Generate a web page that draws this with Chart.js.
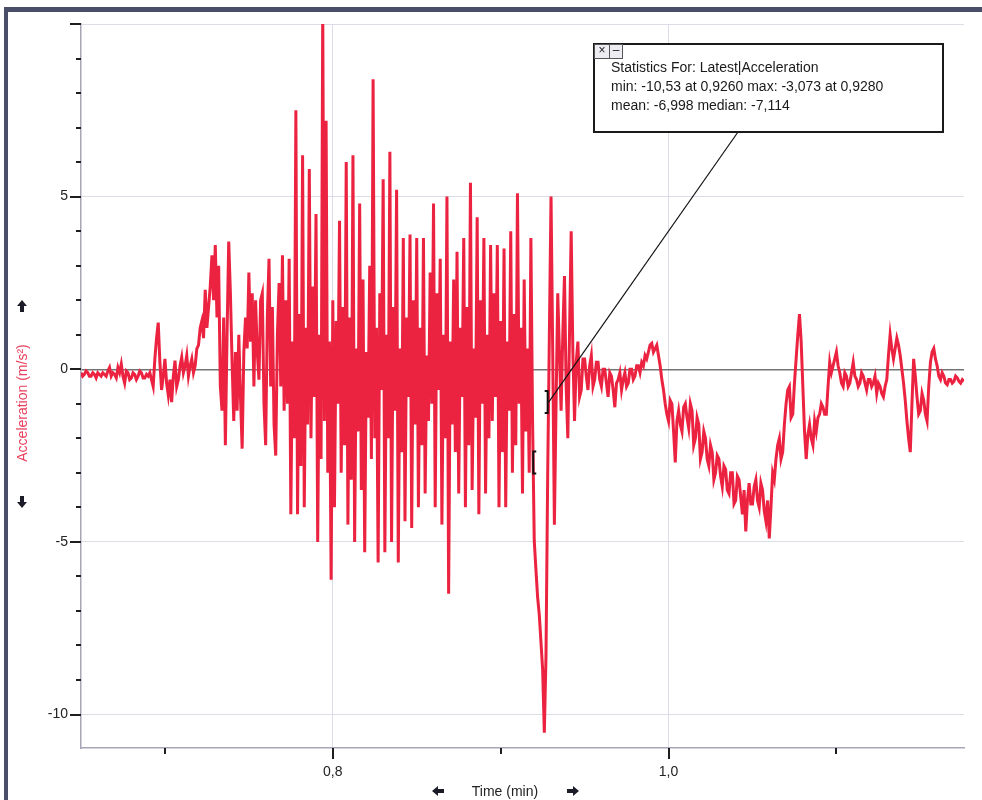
<!DOCTYPE html>
<html>
<head>
<meta charset="utf-8">
<title>Acceleration</title>
<script src="https://cdn.jsdelivr.net/npm/chart.js@4.4.1/dist/chart.umd.min.js"></script>
<style>
  html, body { margin: 0; padding: 0; background: #fff; }
  #wrap { position: relative; width: 982px; height: 800px; overflow: hidden; background: #fff; }
  #wrap canvas { position: absolute; left: 0; top: 0; }
  #frame {
    position: absolute; left: 4px; top: 7px; right: 0; bottom: 0;
    border-left: 4px solid #4a4e66; border-top: 5px solid #4a4e66;
    pointer-events: none;
  }
</style>
</head>
<body>
<div id="wrap">
  <canvas id="accelChart" width="982" height="800"></canvas>
  <div id="frame"></div>
</div>
<script>
// sampling: first sample time and spacing, both in minutes
const T0 = 0.650;
const DT = 0.001;

// acceleration samples (m/s²), 20 per row
const accel = [
  -0.1, -0.2, -0.15, -0.05, -0.1, -0.2, -0.2, -0.1, -0.15, -0.25, -0.1, -0.15, -0.2, -0.1, -0.15, -0.2, -0.05, 0.05, -0.2, -0.1,
  -0.15, -0.25, 0.05, -0.1, 0.15, -0.2, -0.4, -0.05, -0.1, -0.3, -0.25, -0.1, -0.15, -0.3, -0.2, -0.05, -0.1, -0.25, -0.25, -0.15,
  -0.2, -0.1, -0.3, -0.5, 0.3, 0.9, 1.35, 0.2, -0.6, -0.2, 0.3, -0.4, -0.75, -0.3, -0.95, -0.2, 0.25, -0.5, -0.3, 0.1,
  0.35, -0.1, 0.1, 0.4, -0.2, 0.1, 0.3, -0.1, 0.1, 0.6, 0.7, 1.2, 1.4, 0.9, 2.3, 1.2, 1.8, 2.4, 3.3, 2.0,
  3.6, 1.5, 3.0, -0.5, -1.2, 1.5, -2.2, 1.0, 3.7, 2.2, 0.2, -1.5, 0.5, -1.2, 1.0, -0.8, -2.3, 0.5, 1.5, 0.6,
  2.8, 0.8, 2.2, -0.5, 2.0, 0.5, -0.3, 2.0, 2.2, -1.0, -2.2, 1.5, 3.2, -0.5, 1.8, -1.6, -2.5, 1.0, 2.5, -0.5,
  3.3, -1.2, 2.0, -1.0, 3.2, -4.2, 0.8, -2.0, 7.5, -4.2, 1.6, -2.8, 6.2, -4.0, 1.2, -1.6, 5.8, -2.0, 2.4, -0.8,
  4.5, -5.0, 1.0, -2.6, 10.4, -1.5, 7.2, -3.0, 0.8, -6.1, 2.0, -4.0, 1.4, -1.0, 4.3, -3.0, 1.8, -2.2, 6.0, -4.5,
  1.5, -3.2, 6.2, -5.0, 0.6, -1.8, 4.8, -3.5, 2.6, -5.3, 0.5, -1.4, 3.0, -2.6, 8.4, -2.0, 1.2, -5.6, 2.2, -0.6,
  5.5, -5.3, 1.0, -2.0, 6.3, -5.0, 1.8, -1.2, 5.2, -5.6, 0.6, -2.4, 3.8, -4.4, 1.5, -0.8, 3.9, -4.6, 2.0, -1.6,
  3.8, -4.0, 1.2, -2.2, 3.8, -3.6, 0.4, -1.5, 2.8, -1.0, 4.8, -4.0, 2.2, -0.6, 3.2, -4.5, 1.0, -2.0, 5.0, -6.5,
  0.8, -1.6, 2.6, -2.4, 3.4, -3.6, 1.2, -0.8, 3.8, -4.0, 1.8, -2.2, 5.4, -3.5, 0.6, -1.4, 4.4, -4.2, 2.0, -1.0,
  3.8, -3.6, 1.0, -2.0, 3.6, -1.5, 2.2, -0.8, 3.6, -4.0, 1.4, -2.4, 3.5, -4.0, 0.8, -1.2, 4.0, -3.0, 1.6, -2.2,
  5.1, -1.0, 1.2, -3.6, 2.6, -1.8, 0.6, -3.0, 3.8, -1.5, -4.965, -5.8, -6.6, -7.114, -7.9, -8.7, -10.53, -8.3, -3.073, 1.0,
  5.0, 0.5, -4.5, -1.0, 2.2, 0.5, -1.2, 1.0, 2.7, -0.5, -2.0, 1.0, 4.0, 0.5, -1.5, 0.2, 0.8, -0.8, -0.6, 0.3,
  0.3, -0.2, -0.6, 0.1, 0.4, -0.5, -0.3, 0.2, 0.2, -0.3, -0.5, 0.0, 0.0, -0.4, -0.8, -0.1, -0.2, -0.6, -1.1, -0.4,
  -0.3, -0.1, -0.6, -0.3, -0.1, -0.5, -0.4, 0.0, 0.0, -0.3, -0.2, 0.1, 0.1, -0.1, 0.2, 0.1, 0.4, 0.3, 0.5, 0.7,
  0.75, 0.5, 0.6, 0.7, 0.4, 0.1, -0.3, -0.6, -1.0, -1.3, -1.5, -0.9, -1.0, -1.8, -2.7, -1.5, -1.2, -1.6, -1.8, -1.1,
  -1.0, -1.4, -1.7, -1.0, -1.2, -2.2, -2.0, -1.4, -1.6, -2.6, -2.4, -1.8, -2.0, -2.6, -2.8, -2.2, -2.4, -3.2, -3.0, -2.5,
  -2.6, -3.1, -3.4, -2.8, -2.9, -3.5, -3.6, -3.0, -3.0, -3.9, -3.8, -3.1, -3.2, -3.7, -4.2, -3.5, -4.7, -3.8, -3.3, -3.9,
  -3.9, -3.4, -3.2, -3.8, -4.0, -3.3, -3.5, -4.1, -4.4, -3.8, -4.9, -4.0, -3.0, -3.2, -2.6, -2.2, -2.0, -2.6, -2.4, -1.6,
  -1.0, -0.6, -0.5, -1.4, -1.3, -0.4, 0.3, 1.0, 1.6, 0.8, -0.5, -1.8, -2.6, -1.9, -1.6, -2.0, -2.2, -1.5, -1.8, -1.4,
  -1.3, -1.0, -1.1, -1.3, -1.3, -0.5, 0.2, -0.1, 0.1, 0.3, 0.5, 0.1, -0.1, -0.4, -0.5, -0.1, -0.2, -0.5, -0.4, -0.1,
  0.2, -0.2, -0.3, -0.5, -0.4, -0.1, -0.2, -0.4, -0.6, -0.3, -0.3, -0.5, -0.4, -0.2, -0.7, -0.4, -0.5, -0.7, -0.8, -0.5,
  -0.3, 0.4, 1.0, 0.6, 0.3, 0.6, 0.9, 0.7, 0.4, 0.0, -0.4, -0.9, -1.5, -2.0, -2.4, -1.0, 0.3, -0.2, -0.8, -1.3,
  -1.2, -0.7, -0.9, -1.3, -1.5, -0.5, 0.2, 0.5, 0.6, 0.3, 0.1, -0.2, -0.3, -0.1, -0.2, -0.4, -0.45, -0.3, -0.3, -0.4,
  -0.35, -0.2, -0.25, -0.35, -0.4, -0.3, -0.35
];

const xRange = [0.650, 1.176];
const yRange = [-10.97, 10];
const xLabelled = [0.8, 1.0];
const yLabelled = [-10, -5, 0, 5];

// selected region for the statistics box, and where its bracket marks sit
const selection = [0.920, 0.928];
const bracketLevels = [-2.7, -0.95];

const yTitle = 'Acceleration (m/s²)';
const xTitle = 'Time (min)';
const statsTitle = 'Statistics For: Latest|Acceleration';

const FONT = "'Liberation Sans', Arial, sans-serif";
const RED = '#ec2340';

const points = accel.map((v, i) => ({ x: T0 + i * DT, y: v }));

function selectionStats() {
  const sel = points.filter(p => p.x >= selection[0] - 1e-9 && p.x <= selection[1] + 1e-9);
  let min = sel[0], max = sel[0], sum = 0;
  sel.forEach(p => {
    if (p.y < min.y) min = p;
    if (p.y > max.y) max = p;
    sum += p.y;
  });
  const sorted = sel.map(p => p.y).sort((a, b) => a - b);
  const mid = sorted.length >> 1;
  const median = sorted.length % 2 ? sorted[mid] : (sorted[mid - 1] + sorted[mid]) / 2;
  return { min, max, mean: sum / sel.length, median };
}

const fmtNum = v => v.toPrecision(4).replace('.', ',');
const fmtTime = v => v.toFixed(4).replace('.', ',');
const isMajorX = v => Math.round(v * 10) % 2 === 0;
const isMajorY = v => Math.round(v) % 5 === 0;

function line(ctx, x1, y1, x2, y2) {
  ctx.beginPath();
  ctx.moveTo(x1, y1);
  ctx.lineTo(x2, y2);
  ctx.stroke();
}

// small solid block arrow, dir is one of 'up', 'down', 'left', 'right'
function blockArrow(ctx, cx, cy, dir) {
  const rot = { up: 0, right: Math.PI / 2, down: Math.PI, left: -Math.PI / 2 }[dir];
  ctx.save();
  ctx.translate(cx, cy);
  ctx.rotate(rot);
  ctx.fillStyle = '#1c1c28';
  ctx.beginPath();
  ctx.moveTo(0, -6);
  ctx.lineTo(5, 0);
  ctx.lineTo(2, 0);
  ctx.lineTo(2, 6);
  ctx.lineTo(-2, 6);
  ctx.lineTo(-2, 0);
  ctx.lineTo(-5, 0);
  ctx.closePath();
  ctx.fill();
  ctx.restore();
}

// tick marks: long at labelled positions, short in between
const tickMarks = {
  id: 'tickMarks',
  afterDraw(chart) {
    const { ctx, chartArea: a, scales: { x, y } } = chart;
    ctx.save();
    ctx.strokeStyle = '#1e1e1e';
    ctx.lineWidth = 2;
    y.ticks.forEach(t => {
      const py = Math.round(y.getPixelForValue(t.value));
      line(ctx, a.left - (isMajorY(t.value) ? 11 : 5), py, a.left, py);
    });
    x.ticks.forEach(t => {
      const px = Math.round(x.getPixelForValue(t.value));
      line(ctx, px, a.bottom, px, a.bottom + (isMajorX(t.value) ? 11 : 6));
    });
    ctx.restore();
  }
};

// axis titles with the little scroll arrows beside them
const axisTitles = {
  id: 'axisTitles',
  afterDraw(chart) {
    const { ctx } = chart;
    ctx.save();
    ctx.font = '14px ' + FONT;
    ctx.textAlign = 'center';
    ctx.textBaseline = 'middle';

    ctx.save();
    ctx.translate(23, 403);
    ctx.rotate(-Math.PI / 2);
    ctx.fillStyle = '#e8405c';
    ctx.fillText(yTitle, 0, 0);
    ctx.restore();
    blockArrow(ctx, 22, 306, 'up');
    blockArrow(ctx, 22, 502, 'down');

    ctx.fillStyle = '#222';
    ctx.fillText(xTitle, 505, 792);
    blockArrow(ctx, 438, 791, 'left');
    blockArrow(ctx, 573, 791, 'right');
    ctx.restore();
  }
};

// selection brackets, leader line and the statistics box
const statsBox = {
  id: 'statsBox',
  afterDraw(chart) {
    const { ctx, scales: { x, y } } = chart;
    const s = selectionStats();
    const bx = 594, by = 44, bw = 349, bh = 88;

    ctx.save();
    ctx.strokeStyle = '#111';
    ctx.lineWidth = 2;
    const lx = x.getPixelForValue(selection[0]);
    const rx = x.getPixelForValue(selection[1]);
    const ly = y.getPixelForValue(bracketLevels[0]);
    const ry = y.getPixelForValue(bracketLevels[1]);
    // "[" at the start
    ctx.beginPath();
    ctx.moveTo(lx + 2, ly - 11); ctx.lineTo(lx - 1, ly - 11);
    ctx.lineTo(lx - 1, ly + 11); ctx.lineTo(lx + 2, ly + 11);
    ctx.stroke();
    // "]" at the end
    ctx.beginPath();
    ctx.moveTo(rx - 3, ry - 11); ctx.lineTo(rx, ry - 11);
    ctx.lineTo(rx, ry + 11); ctx.lineTo(rx - 3, ry + 11);
    ctx.stroke();

    ctx.lineWidth = 1.2;
    line(ctx, rx + 1, ry, 738, by + bh);

    ctx.fillStyle = '#fff';
    ctx.fillRect(bx, by, bw, bh);
    ctx.lineWidth = 2;
    ctx.strokeStyle = '#1a1a1a';
    ctx.strokeRect(bx, by, bw, bh);

    // close / minimise buttons
    ctx.fillStyle = '#ececf2';
    ctx.fillRect(bx, by, 29, 15);
    ctx.lineWidth = 1;
    ctx.strokeStyle = '#555';
    ctx.strokeRect(bx + 0.5, by + 0.5, 28, 14);
    line(ctx, bx + 15.5, by, bx + 15.5, by + 15);
    ctx.fillStyle = '#222';
    ctx.font = '12px ' + FONT;
    ctx.textAlign = 'center';
    ctx.textBaseline = 'middle';
    ctx.fillText('×', bx + 8, by + 7);
    ctx.fillText('–', bx + 22, by + 7);

    ctx.font = '14px ' + FONT;
    ctx.textAlign = 'left';
    ctx.fillStyle = '#1a1a1a';
    const rows = [
      statsTitle,
      'min: ' + fmtNum(s.min.y) + ' at ' + fmtTime(s.min.x) +
        ' max: ' + fmtNum(s.max.y) + ' at ' + fmtTime(s.max.x),
      'mean: ' + fmtNum(s.mean) + ' median: ' + fmtNum(s.median)
    ];
    rows.forEach((r, i) => ctx.fillText(r, bx + 17, by + 24 + i * 19));
    ctx.restore();
  }
};

new Chart(document.getElementById('accelChart'), {
  type: 'line',
  data: {
    datasets: [{
      data: points,
      borderColor: RED,
      borderWidth: 3,
      pointRadius: 0,
      tension: 0,
      clip: 0
    }]
  },
  options: {
    responsive: false,
    animation: false,
    devicePixelRatio: 1,
    layout: { padding: { left: 0, top: 24, right: 18, bottom: 0 } },
    plugins: { legend: { display: false }, tooltip: { enabled: false } },
    scales: {
      x: {
        type: 'linear',
        min: xRange[0],
        max: xRange[1],
        afterFit: s => { s.height = 52; },
        border: { color: '#a6a6b6', width: 1.5 },
        grid: {
          drawTicks: false,
          color: c => isMajorX(c.tick.value) ? '#dcdce6' : 'rgba(0,0,0,0)'
        },
        ticks: {
          stepSize: 0.1,
          includeBounds: false,
          autoSkip: false,
          maxRotation: 0,
          padding: 16,
          color: '#222',
          font: { family: FONT, size: 14 },
          callback: v => {
            const r = Math.round(v * 10) / 10;
            return xLabelled.includes(r) ? r.toFixed(1).replace('.', ',') : '';
          }
        }
      },
      y: {
        min: yRange[0],
        max: yRange[1],
        afterFit: s => { s.width = 81; },
        border: { color: '#a6a6b6', width: 1.5 },
        grid: {
          drawTicks: false,
          color: c => c.tick.value === 0 ? '#747474' : (isMajorY(c.tick.value) ? '#dcdce6' : 'rgba(0,0,0,0)'),
          lineWidth: c => c.tick.value === 0 ? 1.5 : 1
        },
        ticks: {
          stepSize: 1,
          includeBounds: false,
          autoSkip: false,
          padding: 13,
          color: '#222',
          font: { family: FONT, size: 14 },
          callback: v => yLabelled.includes(v) ? String(v) : ''
        }
      }
    }
  },
  plugins: [tickMarks, axisTitles, statsBox]
});
</script>
</body>
</html>
